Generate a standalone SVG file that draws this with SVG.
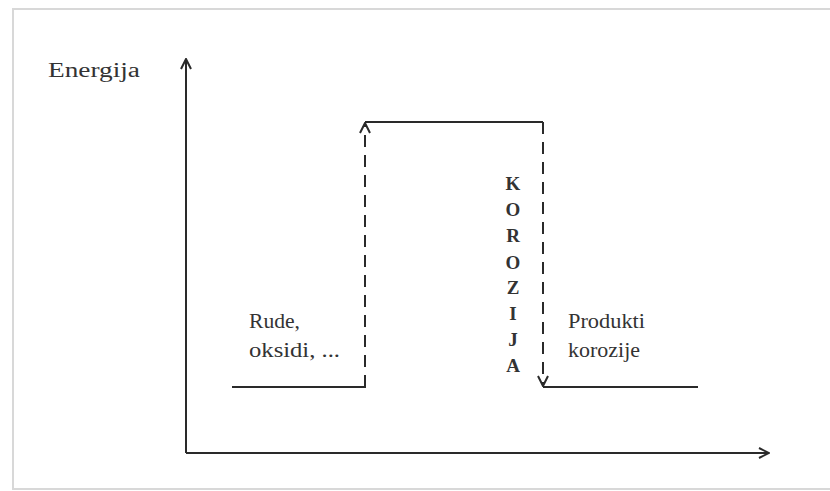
<svg xmlns="http://www.w3.org/2000/svg" width="830" height="491" viewBox="0 0 830 491">
<style>
.ln{stroke:#2a2a2a;stroke-width:2;fill:none}
.ds{stroke:#2a2a2a;stroke-width:2;fill:none;stroke-dasharray:12 8}
.t{font-family:"Liberation Serif","DejaVu Serif",serif;font-size:20px;fill:#333}
.v{font-family:"Liberation Serif","DejaVu Serif",serif;font-size:19px;font-weight:bold;fill:#333;text-anchor:middle}
</style>
<defs>
<marker id="ah" viewBox="0 0 12 12" refX="11" refY="6" markerWidth="12" markerHeight="12" markerUnits="userSpaceOnUse" orient="auto">
<path d="M1,1 L11,6 L1,11" fill="none" stroke="#2a2a2a" stroke-width="2"/>
</marker>
</defs>
<rect x="0" y="0" width="830" height="491" fill="#fff"/>
<rect x="13" y="9" width="840" height="480" fill="none" stroke="#d8d8d8" stroke-width="2"/>
<g id="axes">
<path class="ln" d="M186,453 L186,59" marker-end="url(#ah)"/>
<path class="ln" d="M186,453 L769,453" marker-end="url(#ah)"/>
</g>
<g id="levels">
<path class="ln" d="M232,387 L366,387"/>
<path class="ln" d="M365,122 L543,122"/>
<path class="ln" d="M543,387 L698,387"/>
</g>
<g id="connectors">
<path class="ds" d="M365,387 L365,123" marker-end="url(#ah)"/>
<path class="ds" d="M543,122 L543,386" marker-end="url(#ah)"/>
</g>
<g id="label-energija"><text class="t" x="48" y="77" textLength="92" lengthAdjust="spacingAndGlyphs">Energija</text></g>
<g id="label-rude">
<text class="t" x="249" y="328" textLength="51" lengthAdjust="spacingAndGlyphs">Rude,</text>
<text class="t" x="249" y="357" textLength="91" lengthAdjust="spacingAndGlyphs">oksidi, ...</text>
</g>
<g id="label-produkti">
<text class="t" x="568" y="328" textLength="77" lengthAdjust="spacingAndGlyphs">Produkti</text>
<text class="t" x="568" y="357" textLength="72" lengthAdjust="spacingAndGlyphs">korozije</text>
</g>
<g id="label-korozija">
<text class="v" x="513" y="190">K</text>
<text class="v" x="513" y="216">O</text>
<text class="v" x="513" y="242">R</text>
<text class="v" x="513" y="269">O</text>
<text class="v" x="513" y="294">Z</text>
<text class="v" x="513" y="320">I</text>
<text class="v" x="513" y="346">J</text>
<text class="v" x="513" y="372">A</text>
</g>
</svg>
